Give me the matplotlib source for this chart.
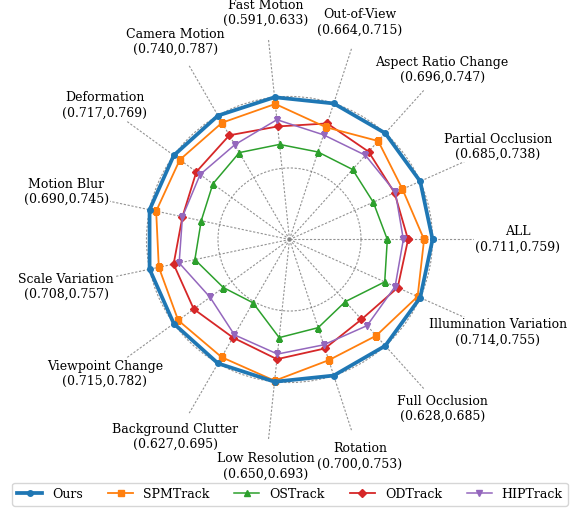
import matplotlib

matplotlib.use("Agg")
import matplotlib.pyplot as plt
import numpy as np

plt.rcParams["font.family"] = "DejaVu Serif"

# LaSOT attributes, counter-clockwise starting from the right
categories = [
    "ALL", "Partial Occlusion", "Aspect Ratio Change", "Out-of-View",
    "Fast Motion", "Camera Motion", "Deformation", "Motion Blur",
    "Scale Variation", "Viewpoint Change", "Background Clutter",
    "Low Resolution", "Rotation", "Full Occlusion", "Illumination Variation",
]

ours = [0.759, 0.738, 0.747, 0.715, 0.633, 0.787, 0.769, 0.745,
        0.757, 0.782, 0.695, 0.693, 0.753, 0.685, 0.755]
spmtrack = [0.750, 0.718, 0.736, 0.690, 0.627, 0.778, 0.761, 0.738,
            0.747, 0.776, 0.688, 0.692, 0.736, 0.672, 0.752]
ostrack = [0.711, 0.685, 0.696, 0.664, 0.591, 0.740, 0.717, 0.690,
           0.708, 0.715, 0.627, 0.650, 0.700, 0.628, 0.714]
odtrack = [0.733, 0.709, 0.721, 0.694, 0.607, 0.762, 0.739, 0.710,
           0.731, 0.755, 0.666, 0.671, 0.723, 0.651, 0.729]
hiptrack = [0.728, 0.710, 0.716, 0.682, 0.613, 0.750, 0.734, 0.710,
            0.725, 0.733, 0.663, 0.666, 0.719, 0.659, 0.726]

names = ["Ours", "SPMTrack", "OSTrack", "ODTrack", "HIPTrack"]
series = [ours, spmtrack, ostrack, odtrack, hiptrack]

# name -> (color, marker, linewidth, markersize, zorder)
STYLE = {
    "Ours": ("#1f77b4", "o", 2.7, 4, 6),
    "SPMTrack": ("#ff7f0e", "s", 1.3, 4.5, 5),
    "OSTrack": ("#2ca02c", "^", 1.1, 4.5, 3),
    "ODTrack": ("#d62728", "D", 1.3, 4, 4),
    "HIPTrack": ("#9467bd", "v", 1.1, 4.5, 4),
}


def main():
    data = np.array(series)
    lo, hi = data.min(axis=0), data.max(axis=0)
    norm = data / hi  # each attribute scaled by its best score

    n = len(categories)
    angles = np.linspace(0, 2 * np.pi, n, endpoint=False)
    closed = np.append(angles, angles[0])

    fig = plt.figure(figsize=(5.8, 5.08), dpi=100)
    ax = fig.add_axes([0.1526, 0.1329, 0.6931, 0.7913], polar=True)

    for name, vals in zip(names, norm):
        color, marker, lw, ms, z = STYLE[name]
        ax.plot(closed, np.append(vals, vals[0]), color=color, marker=marker,
                lw=lw, ms=ms, label=name, zorder=z)

    ax.set_ylim(0.8, 1.081)
    ax.set_xticks(angles)
    ax.set_xticklabels([])
    ax.set_yticks([0.8, 0.9, 1.0])
    ax.set_yticklabels([])
    ax.tick_params(length=0)
    ax.grid(color="grey", linestyle=(0, (2, 1.5)), linewidth=0.8, alpha=0.85)
    ax.spines["polar"].set_visible(False)

    for ang, cat, a, b in zip(angles, categories, lo, hi):
        ax.text(ang, 1.119, f"{cat}\n({a:.3f},{b:.3f})", ha="center",
                va="center", multialignment="center", fontsize=9,
                bbox=dict(facecolor="white", edgecolor="none", pad=1.0),
                zorder=10)

    fig.legend(loc="lower center", bbox_to_anchor=(0.5, -0.008), ncol=5,
               fontsize=9, frameon=True, handlelength=2.0)
    fig.savefig("out.png", dpi=100, facecolor="white")
    plt.close(fig)


if __name__ == "__main__":
    main()
